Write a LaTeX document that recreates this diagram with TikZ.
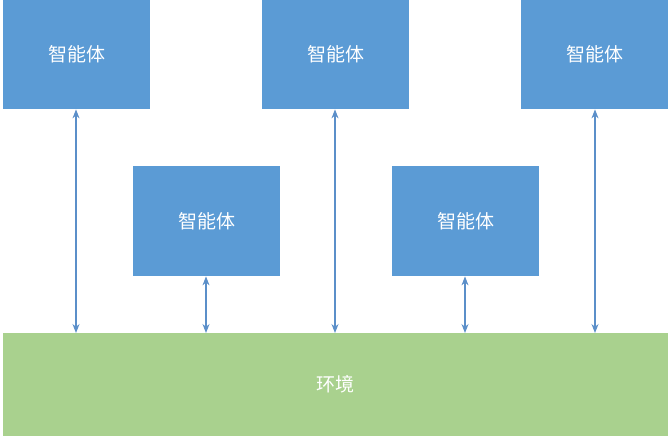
\documentclass[tikz,border=0pt]{standalone}
\usepackage{fontspec}
\newfontfamily\cjk{Noto Sans CJK SC}
\usetikzlibrary{arrows.meta}
\definecolor{agentblue}{HTML}{5B9BD5}
\definecolor{envgreen}{HTML}{A9D18E}
\definecolor{linkblue}{HTML}{5B8FC9}
\begin{document}
\begin{tikzpicture}[x=1pt,y=-1pt,
  agent/.style={fill=agentblue,draw=none,minimum width=147pt,minimum height=109pt,inner sep=0pt,
    font=\cjk\fontsize{19}{22}\selectfont,text=white,anchor=north west},
  link/.style={draw=linkblue,line width=1.1pt,{Stealth[length=9pt,width=7pt]}-{Stealth[length=9pt,width=7pt]}}]
\useasboundingbox (0,0) rectangle (670,436);
\node[agent] (a1) at (3,0) {智能体};
\node[agent] (a2) at (262,0) {智能体};
\node[agent] (a3) at (521,0) {智能体};
\node[agent,minimum height=110pt] (b1) at (133,166) {智能体};
\node[agent,minimum height=110pt] (b2) at (392,166) {智能体};
\node[fill=envgreen,minimum width=665pt,minimum height=103pt,inner sep=0pt,anchor=north west,
  font=\cjk\fontsize{19}{22}\selectfont,text=white] (env) at (3,333) {环境};
\draw[link] (a1.south -| 76,0) -- (76,333);
\draw[link] (b1.south -| 206,0) -- (206,333);
\draw[link] (a2.south -| 335,0) -- (335,333);
\draw[link] (b2.south -| 465,0) -- (465,333);
\draw[link] (a3.south -| 595,0) -- (595,333);
\end{tikzpicture}
\end{document}
